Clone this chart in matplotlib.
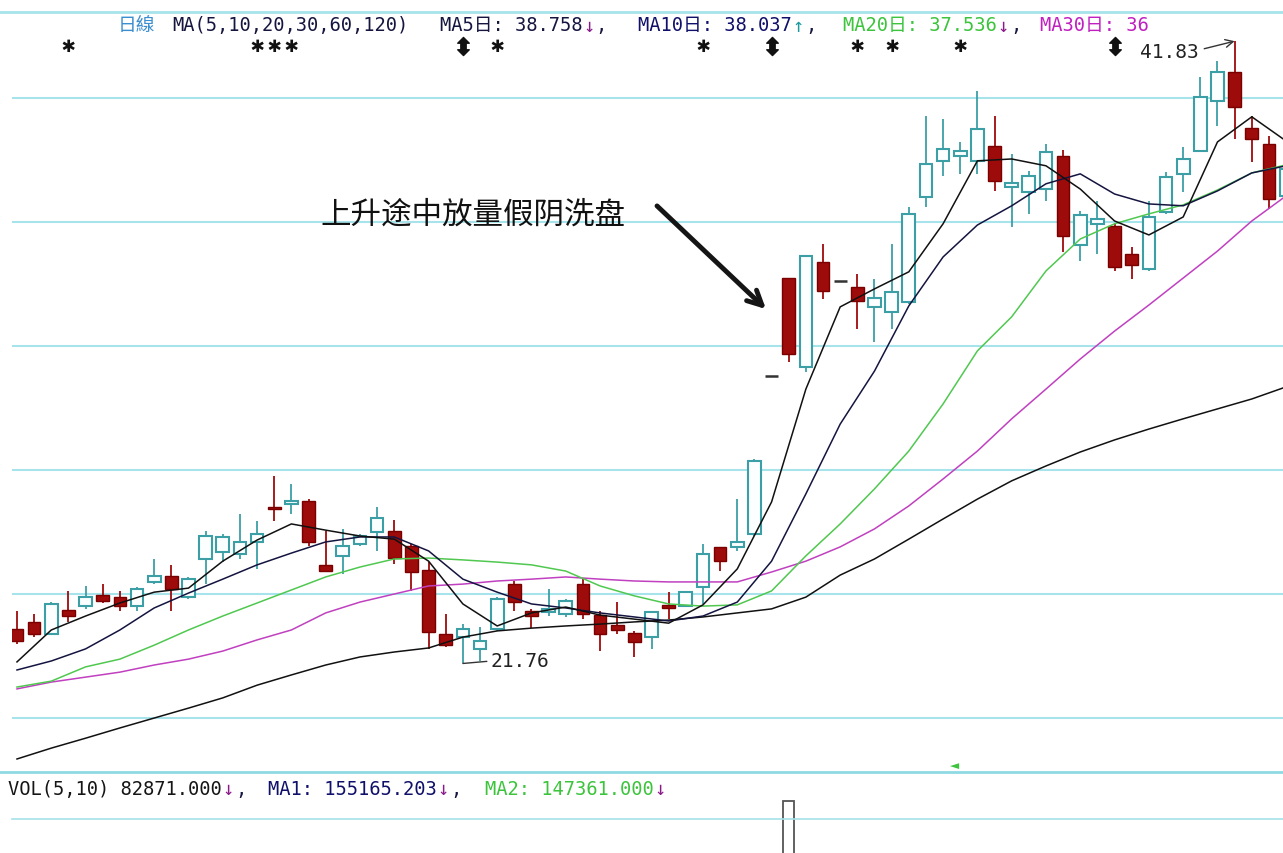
import matplotlib as mpl
import matplotlib.pyplot as plt
from matplotlib.lines import Line2D
from matplotlib.patches import FancyArrowPatch

mpl.rcParams['font.family'] = ['DejaVu Sans Mono', 'DejaVu Sans', 'Noto Sans CJK SC']

# daily candles (price), left to right
opens = [22.87, 23.10, 22.71, 23.48, 23.61, 23.97, 23.90, 23.61, 24.39, 24.58,
         23.90, 25.13, 25.35, 25.29, 25.68, 26.81, 26.90, 27.00, 24.94, 25.23,
         25.61, 26.00, 26.03, 25.55, 24.77, 22.71, 22.61, 22.23, 22.87, 24.32,
         23.45, 23.42, 23.35, 24.32, 23.32, 23.00, 22.74, 22.61, 23.65, 23.61,
         24.23, 25.52, 25.52, 25.94, 31.03, 34.19, 31.32, 34.71, 34.10, 33.90,
         33.26, 33.10, 33.42, 36.81, 37.97, 38.13, 37.97, 38.45, 37.13, 36.97,
         37.06, 38.13, 35.26, 35.94, 35.87, 34.97, 34.48, 36.32, 37.55, 38.29,
         39.90, 40.84, 39.03, 38.52, 36.84]
highs = [23.45, 23.35, 23.74, 24.10, 24.26, 24.32, 24.10, 24.23, 25.13, 24.94,
         24.55, 26.03, 25.94, 26.58, 26.35, 27.81, 27.55, 27.06, 26.03, 26.10,
         25.94, 26.81, 26.39, 25.61, 25.03, 23.35, 23.03, 22.94, 23.90, 24.42,
         23.52, 24.16, 23.84, 24.48, 23.45, 23.74, 22.81, 23.45, 24.06, 24.06,
         25.61, 25.52, 27.06, 28.35, 31.03, 34.19, 34.90, 35.29, 34.10, 34.32,
         34.16, 35.29, 36.48, 39.42, 39.32, 38.58, 40.23, 39.42, 38.19, 37.65,
         38.52, 38.32, 36.35, 36.68, 35.97, 35.19, 36.68, 37.61, 38.42, 40.68,
         41.19, 41.83, 39.42, 38.77, 37.87]
lows = [22.39, 22.61, 22.68, 23.10, 23.52, 23.71, 23.45, 23.45, 24.32, 23.45,
        23.84, 24.32, 25.03, 25.13, 24.81, 26.35, 26.58, 25.55, 24.71, 24.65,
        25.55, 25.39, 24.97, 24.10, 22.23, 22.29, 21.76, 21.84, 22.81, 23.45,
        22.90, 23.29, 23.26, 23.19, 22.16, 22.71, 21.97, 22.23, 23.19, 23.61,
        23.68, 24.74, 25.39, 25.87, 31.03, 31.48, 31.16, 33.52, 34.10, 32.55,
        32.13, 32.55, 33.35, 36.48, 37.48, 37.55, 37.55, 37.00, 35.84, 36.26,
        36.68, 35.03, 34.74, 34.97, 34.42, 34.16, 34.42, 36.26, 36.97, 38.29,
        39.10, 38.68, 37.94, 36.42, 36.74]
closes = [22.48, 22.71, 23.68, 23.29, 23.90, 23.77, 23.61, 24.16, 24.58, 24.16,
          24.48, 25.87, 25.84, 25.68, 25.94, 26.74, 27.00, 25.68, 24.74, 25.55,
          25.87, 26.45, 25.16, 24.71, 22.77, 22.35, 22.87, 22.48, 23.84, 23.74,
          23.29, 23.52, 23.77, 23.35, 22.71, 22.84, 22.45, 23.42, 23.55, 24.06,
          25.29, 25.06, 25.68, 28.29, 31.03, 31.74, 34.90, 33.77, 34.10, 33.45,
          33.55, 33.74, 36.26, 37.87, 38.35, 38.29, 39.00, 37.32, 37.26, 37.48,
          38.26, 35.55, 36.23, 36.10, 34.55, 34.61, 36.16, 37.45, 38.03, 40.03,
          40.84, 39.71, 38.68, 36.74, 37.71]

ma_days = list(range(0, 75, 2))
ma5 = [21.81, 22.84, 23.29, 23.71, 24.06, 24.19, 25.06, 25.74, 26.26, 26.06,
       25.87, 25.77, 25.06, 23.68, 22.97, 23.39, 23.58, 23.32, 23.19, 23.06,
       23.65, 24.81, 26.97, 30.61, 33.26, 33.84, 34.39, 35.94, 37.97, 38.03,
       37.81, 37.06, 36.03, 35.58, 36.16, 38.58, 39.39, 38.61]
ma10 = [21.55, 21.84, 22.23, 22.84, 23.55, 24.03, 24.48, 24.94, 25.32, 25.68,
        25.84, 25.84, 25.39, 24.48, 24.06, 23.68, 23.55, 23.39, 23.26, 23.13,
        23.29, 23.74, 25.06, 27.23, 29.48, 31.19, 33.29, 34.87, 35.90, 36.52,
        37.23, 37.55, 36.90, 36.58, 36.52, 37.00, 37.58, 37.81]
ma20 = [21.00, 21.19, 21.65, 21.90, 22.35, 22.84, 23.29, 23.71, 24.13, 24.55,
        24.87, 25.13, 25.16, 25.10, 25.03, 24.94, 24.74, 24.26, 23.94, 23.68,
        23.61, 23.65, 24.10, 25.23, 26.26, 27.39, 28.61, 30.13, 31.84, 32.94,
        34.42, 35.45, 35.94, 36.26, 36.55, 37.03, 37.58, 37.84]
ma30 = [20.94, 21.16, 21.32, 21.48, 21.71, 21.90, 22.16, 22.52, 22.84, 23.39,
        23.74, 24.00, 24.26, 24.32, 24.42, 24.48, 24.55, 24.48, 24.42, 24.39,
        24.39, 24.39, 24.71, 25.06, 25.52, 26.10, 26.84, 27.71, 28.61, 29.65,
        30.61, 31.58, 32.48, 33.32, 34.19, 35.06, 36.03, 36.84]
ma120 = [18.68, 19.03, 19.35, 19.68, 20.00, 20.32, 20.65, 21.06, 21.39, 21.71,
         21.97, 22.13, 22.26, 22.61, 22.81, 22.90, 22.97, 23.03, 23.10, 23.16,
         23.26, 23.39, 23.52, 23.90, 24.61, 25.13, 25.77, 26.42, 27.06, 27.65,
         28.13, 28.58, 28.97, 29.32, 29.65, 29.97, 30.29, 30.68]

# event marks along the top row
star_days = [3, 14, 15, 16, 28, 40, 49, 51, 55]
flag_days = [26, 44, 64]

# volume: only the big day reaches into view
vol_days = [45]
vol = [590000]

grid_prices = [20, 24, 28, 32, 36, 40]
high_day, high_val = 71, 41.83
low_day, low_val = 26, 21.76

RED = '#9e0b0b'
TEAL = '#3c9fa6'
GRID = '#a6e3ea'
NAVY = '#151540'
PURPLE = '#8a1a8a'
GREEN = '#3cc43c'
W, H = 1283, 854


def px(x, y):
    return x / W, 1 - y / H


fig = plt.figure(figsize=(W / 100, H / 100), dpi=100)
fig.patch.set_facecolor('white')
renderer = fig.canvas.get_renderer()


def text_run(y, parts, size=13.5):
    # each part: (x or None to follow on, text, colour)
    x = 0
    for x0, s, c in parts:
        if x0 is not None:
            x = x0
        t = fig.text(*px(x, y), s, ha='left', va='center', fontsize=size, color=c)
        bb = t.get_window_extent(renderer)
        x = bb.x1 + 1


ax = fig.add_axes([12 / W, 81 / H, 1271 / W, 760 / H])
ax.set_xlim(-0.29, 73.82)
ax.set_ylim(18.26, 42.77)
ax.axis('off')

for p in grid_prices:
    ax.axhline(p, color=GRID, lw=1.5, zorder=1)

bw = 0.74
for i in range(len(opens)):
    o, h, l, c = opens[i], highs[i], lows[i], closes[i]
    if o == c:
        ax.hlines(o, i - bw / 2, i + bw / 2, color='#333333', lw=1.8, zorder=2)
        continue
    up = c > o
    col = TEAL if up else RED
    ax.vlines(i, l, min(o, c), color=col, lw=1.3, zorder=2)
    ax.vlines(i, max(o, c), h, color=col, lw=1.3, zorder=2)
    if up:
        ax.bar(i, c - o, bottom=o, width=bw, facecolor='#fbffff',
               edgecolor=TEAL, lw=1.5, zorder=2)
    else:
        ax.bar(i, o - c, bottom=c, width=bw, facecolor=RED,
               edgecolor='#7a0000', lw=1.0, zorder=2)

ax.plot(ma_days, ma120, color='#111111', lw=1.1, zorder=3)
ax.plot(ma_days, ma30, color='#c040c0', lw=1.1, zorder=3)
ax.plot(ma_days, ma20, color='#50c850', lw=1.1, zorder=3)
ax.plot(ma_days, ma10, color='#141440', lw=1.1, zorder=3)
ax.plot(ma_days, ma5, color='#111111', lw=1.1, zorder=3)

# top row marks
tr = ax.get_xaxis_transform()
for d in star_days:
    ax.text(d, 0.957, '✱', transform=tr, ha='center', va='center',
            fontsize=16, color='#111111', zorder=5)
ax.scatter(flag_days, [0.955] * len(flag_days), transform=tr,
           marker='$⬍$', s=170, color='#111111', zorder=5)

ax.annotate('41.83', xy=(high_day, high_val), xycoords='data',
            xytext=px(1140, 53), textcoords='figure fraction',
            ha='left', va='center', fontsize=14, color='#222222',
            arrowprops=dict(arrowstyle='->', color='#333333', lw=1,
                            relpos=(1, 0.6), shrinkA=2, shrinkB=0))
ax.annotate('21.76', xy=(low_day, low_val), xycoords='data',
            xytext=px(491, 662), textcoords='figure fraction',
            ha='left', va='center', fontsize=14, color='#222222',
            arrowprops=dict(arrowstyle='-', color='#333333', lw=1,
                            relpos=(0, 0.5), shrinkA=1, shrinkB=0))

# annotation
fig.text(*px(320, 215), '上升途中放量假阴洗盘', ha='left', va='center',
         fontsize=22, family='Noto Sans CJK SC', color='#111111')
fig.add_artist(FancyArrowPatch(
    px(655, 205), px(768, 312), transform=fig.transFigure,
    arrowstyle='->', mutation_scale=26, lw=3.5, color='#151515'))

# header lines
text_run(26, [(118, '日線', '#3b8fd0'),
              (172, 'MA(5,10,20,30,60,120)', NAVY),
              (440, 'MA5日: 38.758', NAVY),
              (None, '↓', PURPLE), (None, ',', NAVY),
              (638, 'MA10日: 38.037', '#10106a'),
              (None, '↑', '#1a9aa0'), (None, ',', NAVY),
              (843, 'MA20日: 37.536', GREEN),
              (None, '↓', PURPLE), (None, ',', NAVY),
              (1040, 'MA30日: 36', '#c020c0')])

text_run(790, [(8, 'VOL(5,10) 82871.000', '#151515'),
               (None, '↓', PURPLE), (None, ',', NAVY),
               (268, 'MA1: 155165.203', '#10106a'),
               (None, '↓', PURPLE), (None, ',', NAVY),
               (485, 'MA2: 147361.000', GREEN),
               (None, '↓', PURPLE)])

fig.add_artist(Line2D([0, 1], [1 - 13 / H] * 2, color=GRID, lw=2))
fig.add_artist(Line2D([0, 1], [1 - 773 / H] * 2, color='#8fd9e3', lw=2))
fig.add_artist(Line2D([12 / W, 1], [1 - 820 / H] * 2, color=GRID, lw=1.2))
fig.text(*px(955, 765), '◄', ha='center', va='center', fontsize=11,
         color=GREEN)

# volume panel
vax = fig.add_axes([12 / W, -106 / H, 1271 / W, 187 / H])
vax.set_xlim(-0.29, 73.82)
vax.set_ylim(0, 700000)
vax.axis('off')
vax.bar(vol_days, vol, width=0.62, facecolor='white', edgecolor='#555555',
        lw=1.3)

fig.savefig('out.png', dpi=100)
